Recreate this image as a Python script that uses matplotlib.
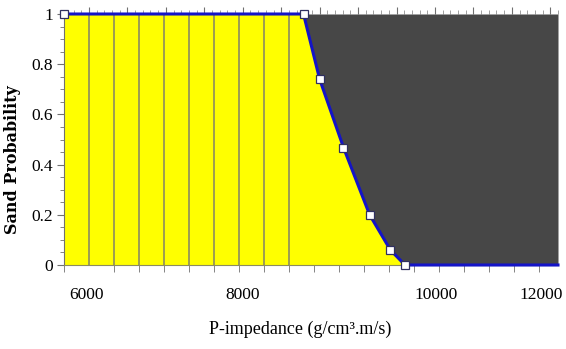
import matplotlib
matplotlib.use('Agg')
import matplotlib.pyplot as plt
from matplotlib.ticker import MultipleLocator, FixedLocator
from matplotlib.transforms import ScaledTranslation
import numpy as np

plt.rcParams['font.family'] = ['Liberation Serif', 'DejaVu Serif']

# data
impedance = [5675, 8790, 9000, 9310, 9650, 9920, 10110, 12100]
sand_prob = [1.0, 1.0, 0.74, 0.468, 0.2, 0.06, 0.0, 0.0]
n_markers = 7
xticks = [6000, 8000, 10000, 12000]
xtick_labels = ['6000', '8000', '10000', '12000']
yticks = [0, 0.2, 0.4, 0.6, 0.8, 1]
ytick_labels = ['0', '0.2', '0.4', '0.6', '0.8', '1']
bin_step = 325
xmin, xmax = 5675, 12100

fig = plt.figure(figsize=(5.66, 3.49), dpi=100)
ax = fig.add_axes([64/566, 1-265/349, (558-64)/566, (265-14)/349])

# shaded regions
ax.fill_between(impedance, 0, sand_prob, color='#ffff00', lw=0, zorder=1)
ax.fill_between(impedance, sand_prob, 1, color='#474747', lw=0, zorder=1)

# bin boundary lines inside the sand region
bins = np.arange(6000, 8601, bin_step)
ax.vlines(bins, 0, 1, color='#8c8c60', lw=1.2, zorder=2)

ax.plot(impedance, sand_prob, color='#1414c8', lw=2.2, zorder=3, clip_on=False)
ax.plot(impedance[:n_markers], sand_prob[:n_markers], ls='none', marker='s',
        ms=6, mfc='white', mec='#303060', mew=0.9, zorder=4, clip_on=False)

ax.set_xlim(xmin, xmax)
ax.set_ylim(0, 1)

ax.set_xticks(xticks)
ax.set_xticklabels(xtick_labels)
ax.xaxis.set_minor_locator(FixedLocator(np.arange(xmin, xmax, bin_step)))
ax.tick_params(axis='x', which='major', length=0, pad=16, labelsize=12.5)
ax.tick_params(axis='x', which='minor', length=5, color='#707070', direction='out')

# the original figure places the last two labels a little off the ticks
shifts = [-2, 0, 40, -9]
for lab, dx in zip(ax.get_xticklabels(), shifts):
    lab.set_transform(lab.get_transform() + ScaledTranslation(dx/100, 0, fig.dpi_scale_trans))

ax.set_yticks(yticks)
ax.set_yticklabels(ytick_labels)
ax.yaxis.set_minor_locator(MultipleLocator(0.05))
ax.tick_params(axis='y', which='major', length=5, color='#707070', pad=3, labelsize=12.5)
ax.tick_params(axis='y', which='minor', length=3, color='#707070')

top = ax.secondary_xaxis('top')
top.xaxis.set_major_locator(MultipleLocator(500))
top.xaxis.set_minor_locator(MultipleLocator(100))
top.tick_params(which='major', length=5, color='#707070', labeltop=False)
top.tick_params(which='minor', length=3, color='#909090')
top.spines['top'].set_visible(False)

for s in ['top', 'right']:
    ax.spines[s].set_visible(False)
ax.spines['left'].set_color('#707070')
ax.spines['bottom'].set_color('#8c8c60')

ax.set_xlabel('P-impedance (g/cm³.m/s)', fontsize=13)
ax.xaxis.set_label_coords((300-64)/494, -(321-265)/251)
ax.set_ylabel('Sand Probability', fontsize=11.5, fontweight='bold',
              family=['DejaVu Serif'])
ax.yaxis.set_label_coords((21-64)/494, (265-160)/251)

fig.savefig('out.png', dpi=100)
